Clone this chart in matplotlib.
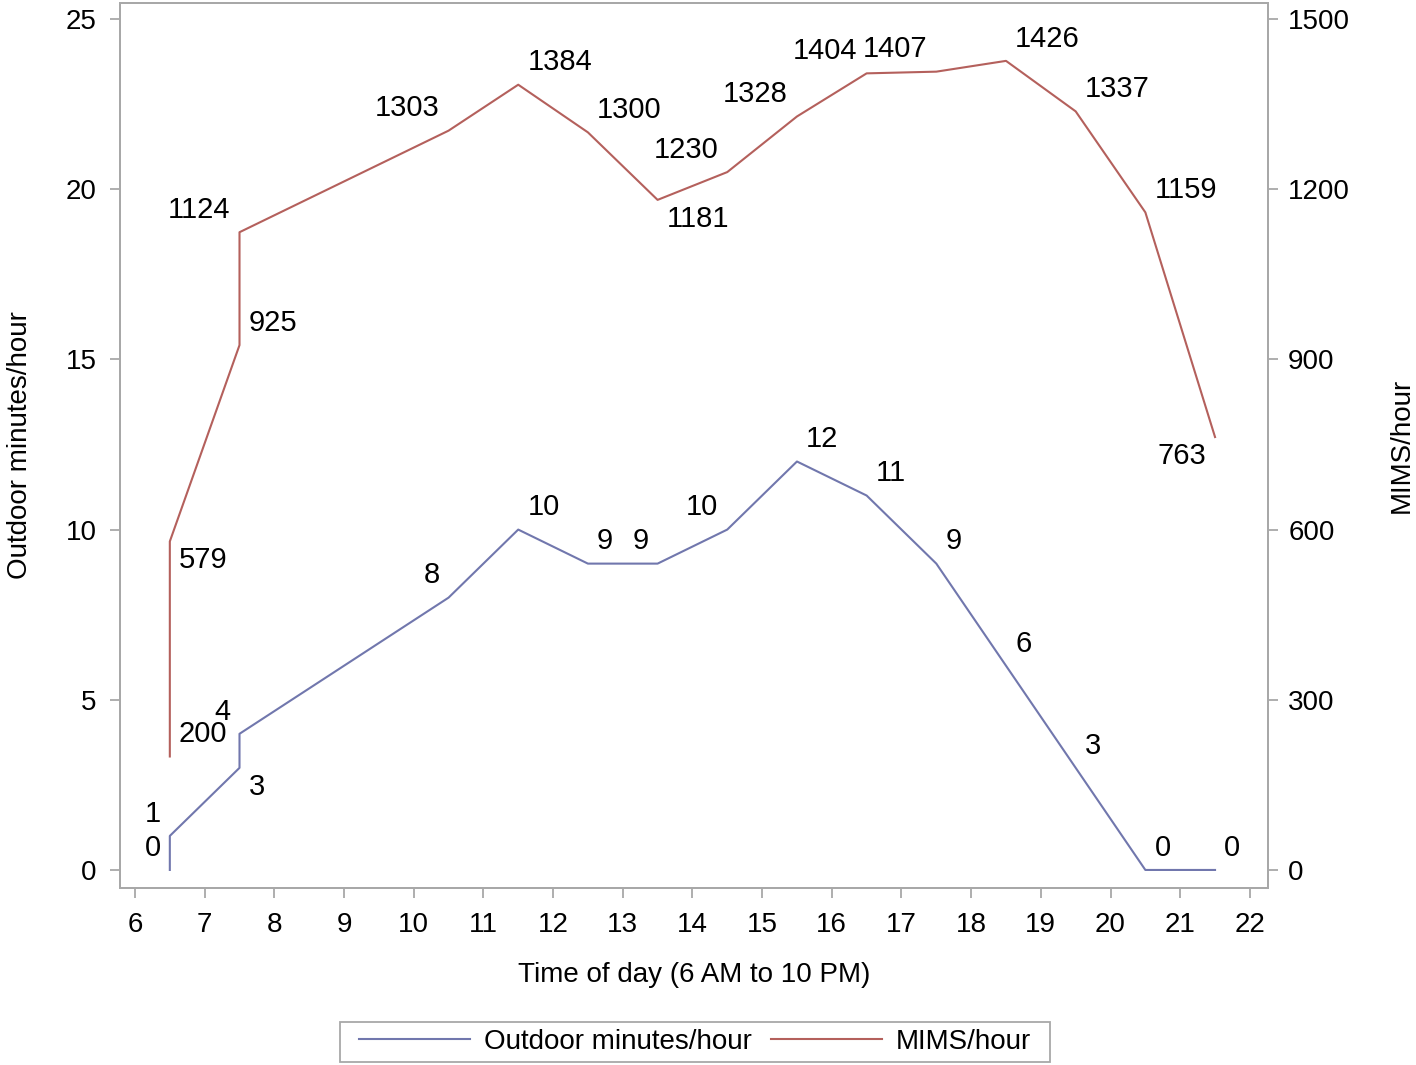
"""Outdoor minutes and MIMS per hour across the day."""

import matplotlib
matplotlib.use("Agg")
import matplotlib.pyplot as plt
from matplotlib.patches import Rectangle

hours = [6.5, 6.5, 7.5, 7.5, 10.5, 11.5, 12.5, 13.5, 14.5, 15.5, 16.5, 17.5, 18.5, 19.5, 20.5, 21.5]
outdoor = [0, 1, 3, 4, 8, 10, 9, 9, 10, 12, 11, 9, 6, 3, 0, 0]
mims = [200, 579, 925, 1124, 1303, 1384, 1300, 1181, 1230, 1328, 1404, 1407, 1426, 1337, 1159, 763]

x_ticks = list(range(6, 23))
left_ticks = [0, 5, 10, 15, 20, 25]
right_ticks = [0, 300, 600, 900, 1200, 1500]

# label placement: u/l = above/below, l/r = left/right of point
outdoor_pos = ["ul", "ul", "lr", "ul", "ul", "ur", "ur", "ul", "ul", "ur", "ur", "ur", "ur", "ur", "ur", "ur"]
mims_pos = ["ur", "lr", "ur", "ul", "ul", "ur", "ur", "lr", "ul", "ul", "ul", "ul", "ur", "ur", "ur", "ll"]

BLUE = "#7177AD"
RED = "#B4605C"
GREY = "#A8A8A8"

plt.rcParams["font.family"] = ["Liberation Sans", "DejaVu Sans"]

W, H = 1416, 1065
fig = plt.figure(figsize=(W / 100, H / 100), dpi=100)
ax = fig.add_axes([120 / W, 1 - 888 / H, 1148 / W, 885 / H])
ax2 = ax.twinx()

l1, = ax.plot(hours, outdoor, color=BLUE, lw=1.5, label="Outdoor minutes/hour")
l2, = ax2.plot(hours, mims, color=RED, lw=1.5, label="MIMS/hour")


def add_labels(a, xs, ys, pos):
    for x, y, p in zip(xs, ys, pos):
        dy = 16 if p[0] == "u" else -13.5
        dx = 6.5 if p[1] == "r" else -6.5
        a.annotate(str(y), (x, y), xytext=(dx, dy), textcoords="offset points",
                   ha="left" if p[1] == "r" else "right", va="center",
                   fontsize=21, color="black")


add_labels(ax, hours, outdoor, outdoor_pos)
add_labels(ax2, hours, mims, mims_pos)

ax.set_xlim(5.785, 22.26)
ax.set_ylim(-0.53, 25.47)
ax2.set_ylim(-31.8, 1528)
ax.set_xticks(x_ticks)
ax.set_yticks(left_ticks)
ax2.set_yticks(right_ticks)

for a in (ax, ax2):
    for s in a.spines.values():
        s.set_color(GREY)
        s.set_linewidth(1.3)
    a.tick_params(colors=GREY, labelcolor="black", labelsize=20, length=7, width=1.3)
ax.tick_params(axis="x", pad=10.5)
ax.tick_params(axis="y", pad=10)
ax2.tick_params(axis="y", pad=7.5)

ax.set_xlabel("Time of day (6 AM to 10 PM)", fontsize=20, labelpad=17)
ax.set_ylabel("Outdoor minutes/hour", fontsize=20, labelpad=23)
ax2.set_ylabel("MIMS/hour", fontsize=20, labelpad=28)

leg = fig.legend(handles=[l1, l2], loc="center", bbox_to_anchor=(695 / W, 1 - 1042 / H),
                 ncol=2, fontsize=20, frameon=False, handlelength=4.0,
                 handletextpad=0.5, columnspacing=0.7, borderpad=0.25, borderaxespad=0)
fig.patches.append(Rectangle((340 / W, 1 - 1062 / H), 710 / W, 40 / H, transform=fig.transFigure,
                             fill=False, edgecolor=GREY, linewidth=1.3))

fig.savefig("out.png", dpi=100)
